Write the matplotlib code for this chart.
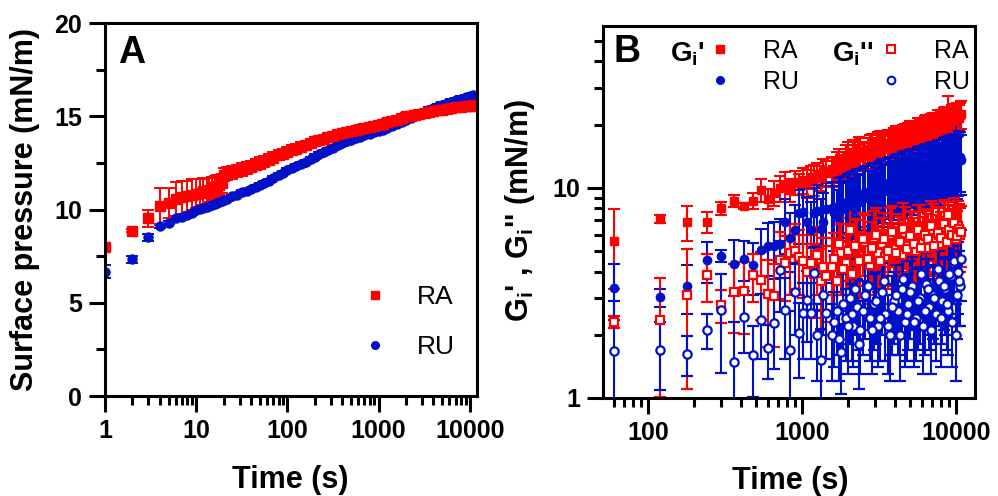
import numpy as np
import matplotlib
matplotlib.use("Agg")
import matplotlib.pyplot as plt
from matplotlib.lines import Line2D
from matplotlib.ticker import MultipleLocator, LogLocator, FuncFormatter, NullFormatter

plt.rcParams['font.family'] = ['Liberation Sans', 'DejaVu Sans']
plt.rcParams['mathtext.fontset'] = 'custom'
plt.rcParams['mathtext.rm'] = 'Liberation Sans'
plt.rcParams['mathtext.bf'] = 'Liberation Sans:bold'
plt.rcParams['mathtext.it'] = 'Liberation Sans:italic'

RED = '#ff0000'
BLUE = '#0010c8'

# ---- panel A : surface pressure vs time ----
time_a = [1, 2, 3, 4, 5, 6, 7, 8, 9, 10, 11, 12, 13, 14, 15, 16, 17, 18, 19, 20,
          22, 25, 28, 32, 36, 40, 45, 50, 56, 63, 70, 80, 90, 100, 112, 125, 140,
          160, 180, 200, 225, 250, 280, 320, 360, 400, 450, 500, 560, 630, 700,
          800, 900, 1000, 1120, 1250, 1400, 1600, 1800, 2000, 2250, 2500, 2800,
          3200, 3600, 4000, 4500, 5000, 5600, 6300, 7000, 8000, 9000, 10000,
          10500, 11000]
ra_a = [8.01, 8.87, 9.53, 10.21, 10.34, 10.57, 10.66, 10.70, 10.79, 10.84, 10.90,
        10.97, 11.01, 11.05, 11.12, 11.20, 11.26, 11.32, 11.40, 11.86,
        11.92, 12.00, 12.07, 12.15, 12.24, 12.30, 12.40, 12.49, 12.58, 12.68,
        12.78, 12.90, 13.00, 13.11, 13.18, 13.26, 13.35, 13.45, 13.55, 13.65,
        13.72, 13.80, 13.88, 13.96, 14.03, 14.08, 14.14, 14.19, 14.25, 14.31,
        14.37, 14.43, 14.49, 14.54, 14.60, 14.67, 14.74, 14.82, 14.90, 14.99,
        15.03, 15.08, 15.13, 15.18, 15.23, 15.27, 15.31, 15.35, 15.39, 15.43,
        15.47, 15.51, 15.54, 15.56, 15.57, 15.58]
ra_a_err = [0.1, 0.1, 0.47, 0.97, 0.8, 0.92, 0.88, 0.85, 0.82, 0.78, 0.75, 0.72,
            0.7, 0.66, 0.63, 0.6, 0.57, 0.54, 0.5, 0.35,
            0.35, 0.34, 0.33, 0.33, 0.32, 0.31, 0.3, 0.3, 0.29, 0.28, 0.28, 0.27,
            0.27, 0.26, 0.26, 0.25, 0.25, 0.24, 0.24, 0.23, 0.23, 0.22, 0.22,
            0.22, 0.21, 0.21, 0.21, 0.2, 0.2, 0.2, 0.2, 0.2, 0.2, 0.2, 0.2, 0.2,
            0.2, 0.2, 0.2, 0.2, 0.2, 0.2, 0.2, 0.2, 0.2, 0.2, 0.2, 0.2, 0.2, 0.2,
            0.2, 0.2, 0.2, 0.2, 0.2, 0.2]
ru_a = [6.67, 7.33, 8.50, 9.09, 9.30, 9.53, 9.62, 9.71, 9.83, 9.95, 10.02, 10.08,
        10.14, 10.19, 10.25, 10.30, 10.36, 10.41, 10.46, 10.52,
        10.58, 10.70, 10.80, 10.92, 11.00, 11.08, 11.20, 11.32, 11.42, 11.55,
        11.68, 11.84, 11.98, 12.13, 12.22, 12.32, 12.42, 12.55, 12.70, 12.84,
        12.96, 13.08, 13.20, 13.32, 13.44, 13.54, 13.65, 13.74, 13.82, 13.90,
        13.98, 14.06, 14.13, 14.19, 14.28, 14.38, 14.48, 14.60, 14.70, 14.81,
        14.92, 15.03, 15.13, 15.25, 15.36, 15.44, 15.53, 15.62, 15.70, 15.78,
        15.86, 15.94, 16.01, 16.06, 16.10, 16.15]
ru_a_err = [0.36, 0.2, 0.2, 0.1, 0.1, 0.1, 0.1, 0.1, 0.1, 0.1, 0.1, 0.1, 0.1, 0.1,
            0.1, 0.1, 0.1, 0.1, 0.1, 0.1, 0.1, 0.1, 0.1, 0.1, 0.1, 0.1, 0.1, 0.1,
            0.1, 0.1, 0.1, 0.1, 0.1, 0.1, 0.12, 0.12, 0.12, 0.12, 0.12, 0.12,
            0.12, 0.12, 0.12, 0.12, 0.12, 0.12, 0.12, 0.12, 0.12, 0.12, 0.12,
            0.12, 0.12, 0.12, 0.12, 0.12, 0.12, 0.12, 0.12, 0.12, 0.12, 0.12,
            0.12, 0.12, 0.12, 0.12, 0.12, 0.12, 0.12, 0.12, 0.12, 0.12, 0.12,
            0.12, 0.12, 0.12]

# ---- panel B : interfacial moduli vs time ----
time_b = list(range(60, 1500, 60)) + [
    1560, 1680, 1800, 1920, 2040, 2160, 2280, 2400, 2580, 2760, 2940, 3120,
    3300, 3480, 3720, 3960, 4200, 4440, 4680, 4920, 5220, 5520, 5820, 6120,
    6420, 6720, 7080, 7440, 7800, 8160, 8520, 8880, 9240, 9600, 9960, 10320,
    10680,
    1620, 1740, 1860, 1980, 2100, 2220, 2340, 2490, 2670, 2850, 3030, 3210,
    3390, 3600, 3840, 4080, 4320, 4560, 4800, 5070, 5370, 5670, 5970, 6270,
    6570, 6900, 7260, 7620, 7980, 8340, 8700, 9060, 9420, 9780, 10140, 10500,
    10800]
gp_ra = [5.6, 7.1, 6.9, 6.9, 8.0, 8.7, 8.2, 8.7, 9.8, 8.9, 9.5, 10.0, 10.4, 9.8,
         10.7, 10.5, 10.9, 10.6, 11.3, 11.0, 11.6, 11.2, 12.0, 11.8,
         12.3, 12.9, 12.6, 13.8, 13.5, 14.6, 14.0, 14.9, 14.4, 15.3, 15.0, 15.8,
         15.4, 16.2, 15.9, 16.6, 16.9, 16.5, 17.4, 17.8, 17.5, 18.3, 18.0, 18.8,
         19.2, 18.9, 19.7, 20.0, 19.6, 20.5, 20.9, 21.3, 20.8, 21.7, 22.1, 21.8,
         22.3,
         12.0, 13.2, 13.0, 14.2, 13.3, 14.3, 15.0, 14.2, 15.0, 15.6, 14.8, 16.0,
         15.7, 16.4, 16.1, 17.0, 16.3, 17.2, 17.0, 18.0, 17.6, 18.5, 18.1, 19.0,
         18.6, 19.4, 19.1, 20.2, 19.9, 20.6, 20.3, 21.0, 21.5, 21.1, 22.0, 21.6,
         22.5]
gp_ra_err = [2.3, 0.3, 1.3, 0.8, 0.6, 0.6, 0.3, 0.8, 1.2, 1.0, 1.3, 1.4, 1.5, 1.2,
             1.4, 1.2, 1.5, 1.6, 1.4, 1.8, 1.6, 1.5, 1.8, 1.7,
             1.8, 2.0, 1.7, 2.2, 1.9, 2.3, 2.0, 2.4, 2.1, 2.5, 2.2, 2.6, 2.3, 2.5,
             2.2, 2.7, 2.4, 2.6, 2.8, 2.5, 2.9, 2.6, 3.0, 2.7, 3.1, 2.8, 3.0, 2.7,
             3.2, 2.9, 3.3, 6.0, 3.0, 3.4, 3.1, 3.5, 3.2,
             1.9, 2.1, 1.8, 2.3, 2.0, 2.2, 2.4, 2.1, 2.3, 2.5, 2.2, 2.6, 2.4, 2.5,
             2.3, 2.7, 2.4, 2.8, 2.6, 2.9, 2.7, 3.0, 2.8, 3.1, 2.9, 3.0, 2.8, 3.2,
             3.0, 3.3, 3.1, 3.4, 3.2, 3.3, 3.5, 3.2, 3.4]
gp_ru = [3.34, 3.02, 3.4, 4.52, 4.76, 4.35, 4.6, 4.28, 5.08, 5.3, 5.27, 5.42, 6.87,
         5.78, 6.32, 7.6, 7.7, 6.9, 6.3, 7.6, 7.8, 6.4, 6.9, 7.9,
         8.0, 7.3, 8.6, 8.2, 9.0, 8.5, 9.3, 8.8, 9.6, 9.1, 10.0, 9.6, 10.4, 9.9,
         10.7, 10.2, 11.0, 10.6, 11.4, 10.9, 11.7, 11.2, 12.0, 11.6, 12.3, 11.9,
         12.6, 12.2, 12.9, 12.5, 13.2, 12.8, 13.5, 13.1, 13.8, 13.4, 14.0,
         7.6, 8.3, 7.9, 8.7, 8.3, 9.1, 8.6, 9.4, 9.0, 9.8, 9.4, 10.2, 9.7, 10.5,
         10.0, 10.8, 10.4, 11.2, 10.7, 11.5, 11.0, 11.9, 11.4, 12.1, 11.7, 12.4,
         12.0, 12.8, 12.3, 13.1, 12.7, 13.4, 12.9, 13.7, 13.2, 14.1, 13.6]
gp_ru_err = [1.0, 0.3, 0.9, 1.0, 0.3, 1.3, 1.0, 1.2, 1.3, 1.5, 1.6, 1.7, 2.0, 1.8,
             2.0, 2.2, 2.3, 2.2, 2.3, 2.4, 2.5, 2.5, 2.6, 2.6,
             2.7, 2.5, 2.8, 2.6, 2.9, 2.7, 3.0, 2.8, 3.1, 2.9, 3.2, 3.0, 3.3, 3.1,
             3.4, 3.2, 3.5, 3.3, 3.6, 3.4, 3.7, 3.5, 3.8, 3.6, 3.9, 3.7, 4.0, 3.8,
             4.1, 3.9, 4.2, 4.0, 4.3, 4.1, 6.5, 4.2, 4.4,
             2.6, 2.8, 2.7, 2.9, 2.8, 3.0, 2.9, 3.1, 3.0, 3.2, 3.1, 3.3, 3.2, 3.4,
             3.3, 3.5, 3.4, 3.6, 3.5, 3.7, 3.6, 3.8, 3.7, 3.9, 3.8, 4.0, 3.9, 4.1,
             4.0, 4.2, 4.1, 4.3, 4.2, 4.4, 4.3, 4.5, 4.3]
gpp_ra = [2.3, 2.36, 3.1, 3.86, 2.78, 3.19, 3.22, 3.86, 3.66, 3.14, 3.05, 4.56,
          4.39, 4.9, 5.0, 4.7, 4.5, 4.0, 4.4, 3.9, 4.8, 3.6, 4.2, 3.8,
          4.2, 3.6, 4.9, 4.4, 6.3, 4.0, 5.2, 4.6, 5.5, 4.3, 5.8, 4.9, 5.4, 4.7,
          6.0, 5.1, 5.6, 4.8, 6.1, 5.3, 5.8, 5.0, 6.2, 5.5, 5.9, 5.2, 6.3, 5.6,
          6.0, 5.4, 6.5, 7.4, 5.8, 6.2, 5.7, 6.6, 6.0,
          4.6, 5.4, 4.1, 5.0, 3.9, 5.3, 4.5, 5.7, 4.6, 5.2, 6.0, 4.5, 5.7, 5.0,
          6.2, 4.9, 5.5, 6.4, 5.1, 5.9, 5.4, 6.3, 5.2, 6.0, 5.7, 6.6, 5.3, 6.1,
          5.8, 6.7, 5.5, 6.3, 6.0, 6.8, 5.9, 6.4, 6.2]
gpp_ra_err = [0.15, 1.35, 2.0, 1.0, 0.5, 1.15, 1.2, 1.0, 1.3, 1.4, 1.3, 1.6, 1.5,
              1.8, 1.7, 1.6, 1.5, 1.4, 1.6, 1.5, 1.7, 1.5, 1.6, 1.5,
              1.6, 1.4, 1.8, 1.6, 2.0, 1.5, 1.8, 1.6, 1.9, 1.5, 2.0, 1.7, 1.8, 1.6,
              2.0, 1.7, 1.9, 1.6, 2.0, 1.8, 1.9, 1.7, 2.1, 1.8, 1.9, 1.7, 2.1, 1.8,
              2.0, 1.8, 2.1, 1.2, 1.9, 2.0, 1.9, 2.1, 2.0,
              1.5, 1.8, 1.4, 1.7, 1.3, 1.8, 1.6, 1.9, 1.5, 1.7, 2.0, 1.6, 1.9, 1.7,
              2.0, 1.6, 1.8, 2.1, 1.7, 1.9, 1.8, 2.0, 1.7, 1.9, 1.8, 2.1, 1.7, 2.0,
              1.9, 2.1, 1.8, 2.0, 1.9, 2.2, 1.9, 2.0, 2.0]
gpp_ru = [1.68, 1.69, 1.62, 2.11, 2.61, 1.49, 2.43, 1.61, 2.34, 1.73, 2.27, 4.06,
          2.63, 1.70, 3.19, 2.04, 2.54, 2.94, 2.54, 3.93, 2.0, 1.52, 3.1, 2.54,
          2.0, 2.6, 1.65, 2.4, 3.0, 2.2, 2.7, 2.1, 3.1, 2.4, 2.8, 2.2, 3.2, 2.5,
          2.0, 2.9, 2.6, 3.3, 2.3, 2.8, 3.4, 2.4, 3.0, 2.2, 3.5, 2.7, 3.1, 2.5,
          3.6, 2.9, 3.3, 2.6, 3.8, 4.4, 2.0, 4.0, 3.4,
          2.3, 1.9, 2.8, 2.2, 2.5, 3.3, 1.8, 2.6, 3.4, 2.1, 2.9, 2.4, 3.6, 2.2,
          2.7, 3.1, 2.0, 3.7, 2.5, 3.2, 2.3, 2.9, 3.9, 2.6, 3.3, 2.1, 3.0, 4.1,
          2.4, 3.4, 2.8, 3.9, 2.3, 4.5, 3.1, 3.6, 4.6]
gpp_ru_err = [1.2, 0.6, 0.35, 0.4, 1.3, 0.8, 0.8, 0.6, 0.8, 0.5, 0.9, 1.5, 1.1, 0.9,
              1.2, 0.8, 1.0, 1.1, 1.0, 1.3, 0.8, 0.6, 1.1, 1.0,
              0.8, 1.0, 0.6, 0.9, 1.2, 0.8, 1.0, 0.8, 1.2, 0.9, 1.1, 0.8, 1.2, 1.0,
              0.8, 1.1, 1.0, 1.3, 0.9, 1.1, 1.3, 0.9, 1.2, 0.9, 1.4, 1.0, 1.2, 1.0,
              1.4, 1.1, 1.3, 1.0, 1.5, 1.6, 0.8, 1.5, 1.2,
              0.9, 0.7, 1.1, 0.9, 1.0, 1.3, 0.7, 1.0, 1.3, 0.8, 1.1, 0.9, 1.4, 0.9,
              1.1, 1.2, 0.8, 1.4, 1.0, 1.3, 0.9, 1.2, 1.5, 1.0, 1.3, 0.8, 1.2, 1.6,
              1.0, 1.3, 1.1, 1.5, 0.9, 1.7, 1.2, 1.4, 1.7]

TICK_FS = 18
LABEL_FS = 22


def style_axis(ax):
    for sp in ax.spines.values():
        sp.set_linewidth(2.2)
    ax.tick_params(which='major', direction='out', length=11.5, width=2.2, pad=5,
                   labelsize=TICK_FS)
    ax.tick_params(which='minor', direction='out', length=6.5, width=2.2)
    for lab in ax.get_xticklabels() + ax.get_yticklabels():
        lab.set_fontweight('bold')


int_fmt = FuncFormatter(lambda v, p: '%d' % v)
eb_a = dict(elinewidth=1.4, capsize=4, capthick=1.4, ms=6.5, linestyle='none')
eb_b = dict(elinewidth=1.5, capsize=4.5, capthick=1.5, ms=6, linestyle='none')

fig = plt.figure(figsize=(9.98, 4.96), dpi=100)

# panel A
axA = fig.add_axes([0.1052, 0.2016, 0.3727, 0.752])
axA.errorbar(time_a, ru_a, yerr=ru_a_err, fmt='o', color=BLUE, mec=BLUE, **eb_a)
axA.errorbar(time_a, ra_a, yerr=ra_a_err, fmt='s', color=RED, mec=RED, **eb_a)
axA.set_xscale('log')
axA.set_xlim(1, 12000)
axA.set_ylim(0, 20)
axA.yaxis.set_major_locator(MultipleLocator(5))
axA.yaxis.set_minor_locator(MultipleLocator(2.5))
axA.xaxis.set_major_locator(LogLocator(base=10, numticks=10))
axA.xaxis.set_minor_locator(LogLocator(base=10, subs=np.arange(2, 10), numticks=20))
axA.xaxis.set_major_formatter(int_fmt)
axA.xaxis.set_minor_formatter(NullFormatter())
axA.set_xlabel('Time (s)', fontsize=LABEL_FS, fontweight='bold')
axA.set_ylabel('Surface pressure (mN/m)', fontsize=LABEL_FS, fontweight='bold')
axA.xaxis.set_label_coords(0.497, -0.185)
axA.yaxis.set_label_coords(-0.175, 0.5)
style_axis(axA)
axA.text(0.035, 0.893, 'A', transform=axA.transAxes, fontsize=27,
         fontweight='bold', va='baseline', ha='left')
hA = [Line2D([], [], marker='s', color=RED, ls='none', ms=5.5),
      Line2D([], [], marker='o', color=BLUE, ls='none', ms=5.5)]
axA.legend(hA, ['RA', 'RU'], loc='upper left', bbox_to_anchor=(0.69, 0.298),
           frameon=False, fontsize=19, handlelength=1.0, handletextpad=1.1,
           labelspacing=1.0, borderpad=0, borderaxespad=0)

# panel B
axB = fig.add_axes([0.6042, 0.1976, 0.3727, 0.75])
axB.errorbar(time_b, gp_ra, yerr=gp_ra_err, fmt='s', color=RED, mec=RED, **eb_b)
axB.errorbar(time_b, gp_ru, yerr=gp_ru_err, fmt='o', color=BLUE, mec=BLUE, **eb_b)
axB.errorbar(time_b, gpp_ra, yerr=gpp_ra_err, fmt='s', color=RED, mec=RED,
             mfc='white', mew=1.6, **eb_b)
axB.errorbar(time_b, gpp_ru, yerr=gpp_ru_err, fmt='o', color=BLUE, mec=BLUE,
             mfc='white', mew=1.6, **eb_b)
axB.set_xscale('log')
axB.set_yscale('log')
axB.set_xlim(51, 13300)
axB.set_ylim(1, 59)
axB.xaxis.set_major_locator(LogLocator(base=10, numticks=10))
axB.xaxis.set_minor_locator(LogLocator(base=10, subs=np.arange(2, 10), numticks=20))
axB.xaxis.set_major_formatter(int_fmt)
axB.xaxis.set_minor_formatter(NullFormatter())
axB.yaxis.set_major_locator(LogLocator(base=10, numticks=10))
axB.yaxis.set_minor_locator(LogLocator(base=10, subs=np.arange(2, 10), numticks=20))
axB.yaxis.set_major_formatter(int_fmt)
axB.yaxis.set_minor_formatter(NullFormatter())
axB.set_xlabel('Time (s)', fontsize=LABEL_FS, fontweight='bold')
axB.set_ylabel(r"G$_\mathbf{i}$' , G$_\mathbf{i}$'' (mN/m)", fontsize=LABEL_FS,
               fontweight='bold')
axB.xaxis.set_label_coords(0.503, -0.183)
axB.yaxis.set_label_coords(-0.177, 0.505)
style_axis(axB)
axB.text(0.027, 0.903, 'B', transform=axB.transAxes, fontsize=27,
         fontweight='bold', va='baseline', ha='left')
axB.text(0.18, 0.905, r"G$_\mathbf{i}$'", transform=axB.transAxes, fontsize=20,
         fontweight='bold', va='baseline', ha='left')
axB.text(0.616, 0.905, r"G$_\mathbf{i}$''", transform=axB.transAxes, fontsize=20,
         fontweight='bold', va='baseline', ha='left')
hB = [Line2D([], [], marker='s', color=RED, ls='none', ms=5.5),
      Line2D([], [], marker='o', color=BLUE, ls='none', ms=5.5),
      Line2D([], [], marker='s', color=RED, mfc='white', mew=1.5, ls='none', ms=5.5),
      Line2D([], [], marker='o', color=BLUE, mfc='white', mew=1.5, ls='none', ms=5.5)]
axB.legend(hB, ['RA', 'RU', 'RA', 'RU'], ncol=2, loc='upper left',
           bbox_to_anchor=(0.281, 0.966), frameon=False, fontsize=18,
           handlelength=1.0, handletextpad=1.2, columnspacing=3.2,
           labelspacing=0.3, borderpad=0, borderaxespad=0)

fig.savefig('out.png', dpi=100)
